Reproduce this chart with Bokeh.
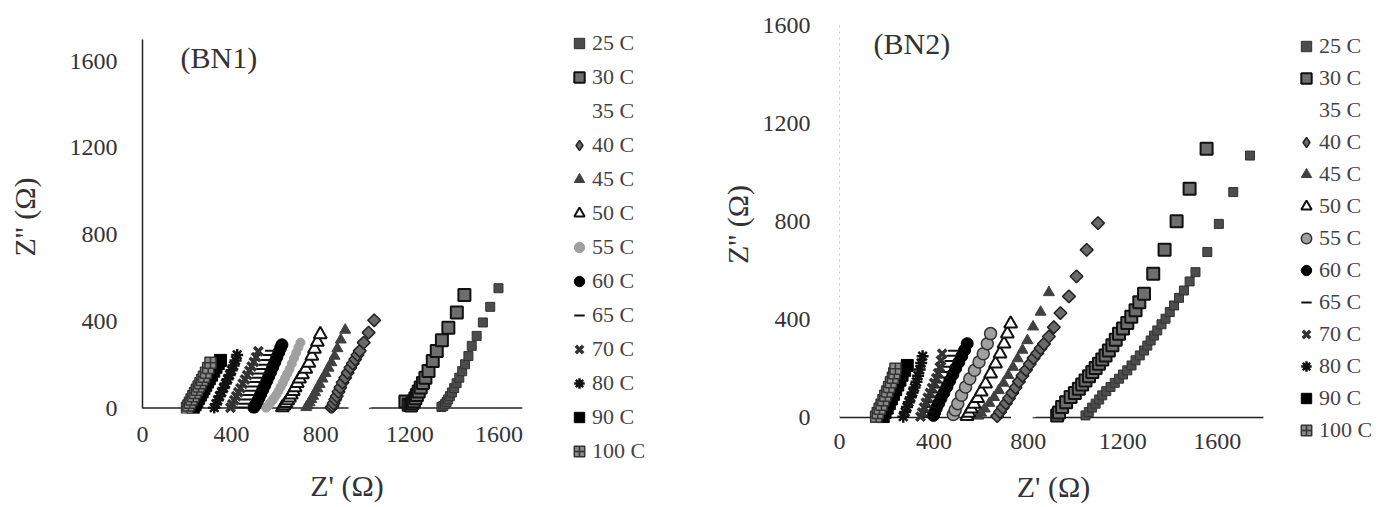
from bokeh.plotting import figure
from bokeh.models import Range1d, FixedTicker, Legend, LegendItem, Label
from bokeh.layouts import row
from bokeh.embed import file_html
from bokeh.resources import INLINE

temps = ["25 C", "30 C", "35 C", "40 C", "45 C", "50 C", "55 C", "60 C",
         "65 C", "70 C", "80 C", "90 C", "100 C"]
x_ticks = [0, 400, 800, 1200, 1600]
y_ticks = [0, 400, 800, 1200, 1600]
bn1_axis_x = [0, 1705]     # extent of the Z' axis line in BN1
bn1_axis_y = [0, 1700]     # extent of the Z'' axis line in BN1
bn2_axis_x = [0, 1796]
bn2_axis_y = [0, 1600]

# ---------------- BN1 ----------------
bn1_25_x = [1342, 1350, 1358, 1365, 1372, 1380, 1389, 1399, 1410, 1422, 1435, 1448, 1463, 1478, 1500, 1528, 1561, 1598]
bn1_25_y = [5, 10, 18, 28, 40, 55, 72, 92, 115, 140, 170, 202, 240, 287, 333, 395, 467, 553]
bn1_30_x = [1180, 1195, 1205, 1212, 1218, 1225, 1232, 1240, 1249, 1259, 1270, 1284, 1303, 1321, 1344, 1373, 1411, 1445]
bn1_30_y = [30, 15, 12, 22, 32, 45, 60, 76, 95, 116, 140, 171, 217, 263, 313, 371, 441, 522]
bn1_35_x = [952, 965, 978, 990, 1002, 1014, 1028, 1044, 1062, 1082, 1105]
bn1_35_y = [0, 4, 10, 18, 30, 45, 65, 90, 120, 155, 195]
bn1_40_x = [848, 853, 858, 865, 872, 880, 888, 898, 910, 921, 933, 944, 955, 965, 975, 993, 1015, 1040]
bn1_40_y = [2, 10, 22, 40, 55, 75, 95, 118, 140, 163, 186, 206, 225, 245, 264, 302, 348, 405]
bn1_45_x = [735, 742, 750, 758, 766, 775, 785, 795, 808, 822, 835, 848, 862, 875, 890, 910]
bn1_45_y = [3, 12, 25, 40, 55, 72, 90, 110, 135, 160, 185, 210, 240, 275, 315, 360]
bn1_50_x = [628, 636, 644, 652, 660, 668, 677, 685, 695, 705, 718, 733, 747, 760, 772, 785, 798]
bn1_50_y = [3, 12, 22, 35, 48, 62, 78, 95, 115, 135, 155, 180, 208, 240, 272, 305, 340]
bn1_55_x = [555, 563, 571, 580, 590, 600, 610, 620, 630, 640, 650, 660, 670, 680, 690, 700, 709]
bn1_55_y = [2, 10, 20, 32, 45, 60, 78, 97, 117, 138, 158, 180, 205, 230, 255, 280, 302]
bn1_60_x = [500, 507, 515, 523, 531, 540, 549, 558, 567, 576, 585, 594, 603, 612, 620, 626]
bn1_60_y = [3, 15, 30, 47, 65, 85, 105, 125, 147, 168, 190, 212, 235, 258, 278, 292]
bn1_65_x = [445, 455, 465, 475, 485, 495, 505, 515, 525, 535, 545, 555, 565, 575]
bn1_65_y = [3, 20, 40, 60, 80, 100, 120, 140, 160, 180, 200, 222, 245, 265]
bn1_70_x = [395, 403, 412, 421, 430, 440, 450, 460, 470, 480, 490, 500, 510, 520]
bn1_70_y = [2, 18, 36, 55, 73, 92, 112, 132, 152, 172, 192, 213, 235, 262]
bn1_80_x = [322, 330, 338, 346, 355, 364, 373, 382, 391, 400, 409, 418, 425]
bn1_80_y = [2, 18, 36, 55, 74, 93, 113, 133, 153, 174, 196, 220, 245]
bn1_90_x = [228, 236, 244, 252, 260, 268, 276, 284, 292, 300, 310, 320, 330, 340, 350]
bn1_90_y = [2, 15, 30, 45, 60, 75, 90, 105, 120, 135, 152, 170, 188, 205, 220]
bn1_100_x = [200, 206, 213, 220, 228, 236, 244, 252, 260, 268, 276, 285, 295, 305]
bn1_100_y = [0, 12, 25, 40, 55, 70, 85, 100, 115, 130, 145, 163, 185, 209]

# ---------------- BN2 ----------------
bn2_25_x = [1042, 1056, 1070, 1085, 1100, 1113, 1130, 1148, 1166, 1184, 1201, 1219, 1237, 1254, 1272, 1290, 1304, 1318,
            1332, 1346, 1364, 1381, 1399, 1417, 1438, 1459, 1483, 1508, 1558, 1607, 1668, 1739]
bn2_25_y = [8, 22, 40, 56, 73, 90, 107, 124, 141, 158, 175, 192, 212, 233, 253, 273, 293, 314,
            334, 355, 380, 403, 430, 457, 488, 518, 555, 593, 675, 790, 920, 1069]
bn2_30_x = [922, 930, 943, 960, 979, 997, 1014, 1028, 1042, 1057, 1071, 1085, 1099, 1113, 1127, 1141, 1156, 1170,
            1184, 1201, 1219, 1236, 1254, 1270, 1290, 1329, 1377, 1428, 1483, 1555]
bn2_30_y = [8, 20, 42, 62, 83, 100, 117, 134, 151, 168, 185, 202, 219, 236, 253, 273, 294, 317,
            341, 363, 385, 411, 437, 470, 505, 586, 684, 801, 933, 1097]
bn2_35_x = [752, 765, 778, 792, 806, 820, 836, 855, 876, 900]
bn2_35_y = [0, 3, 8, 15, 25, 40, 60, 85, 115, 150]
bn2_40_x = [668, 680, 692, 705, 718, 732, 746, 760, 775, 790, 806, 822, 838, 852, 866, 887, 908, 936, 972, 1004, 1047, 1095]
bn2_40_y = [5, 22, 40, 58, 78, 100, 122, 146, 170, 194, 218, 242, 262, 282, 300, 330, 368, 426, 494, 576, 684, 793]
bn2_45_x = [588, 600, 615, 635, 655, 675, 695, 715, 735, 755, 775, 796, 820, 852, 887]
bn2_45_y = [6, 18, 35, 58, 82, 110, 140, 172, 205, 240, 275, 314, 370, 430, 510]
bn2_50_x = [540, 548, 558, 570, 585, 600, 619, 640, 661, 680, 697, 711, 725]
bn2_50_y = [5, 18, 35, 55, 78, 105, 137, 178, 219, 260, 301, 341, 382]
bn2_55_x = [482, 490, 501, 517, 534, 552, 572, 591, 609, 626, 640]
bn2_55_y = [12, 30, 56, 90, 124, 158, 192, 226, 260, 301, 342]
bn2_60_x = [398, 403, 410, 420, 430, 442, 455, 467, 480, 492, 505, 518, 530, 541]
bn2_60_y = [8, 20, 37, 57, 78, 100, 125, 150, 175, 200, 225, 250, 275, 301]
bn2_65_x = [370, 378, 387, 396, 405, 414, 423, 432, 441, 450, 459, 468, 476, 483]
bn2_65_y = [3, 22, 42, 62, 82, 102, 122, 142, 163, 185, 207, 230, 252, 272]
bn2_70_x = [343, 350, 358, 366, 374, 383, 392, 401, 410, 418, 425, 430, 435]
bn2_70_y = [3, 20, 40, 60, 80, 100, 120, 140, 160, 180, 205, 232, 260]
bn2_80_x = [270, 278, 286, 294, 302, 310, 318, 326, 333, 340, 346, 352]
bn2_80_y = [3, 22, 42, 62, 82, 102, 122, 145, 170, 195, 222, 250]
bn2_90_x = [185, 193, 202, 211, 220, 229, 238, 247, 256, 265, 276, 287]
bn2_90_y = [3, 20, 38, 56, 75, 94, 113, 132, 152, 172, 192, 212]
bn2_100_x = [155, 162, 170, 178, 186, 194, 202, 210, 218, 226, 232, 237]
bn2_100_y = [3, 18, 35, 52, 70, 88, 106, 124, 143, 162, 180, 199]

bn1_series = [(bn1_25_x, bn1_25_y), (bn1_30_x, bn1_30_y), (bn1_35_x, bn1_35_y), (bn1_40_x, bn1_40_y),
              (bn1_45_x, bn1_45_y), (bn1_50_x, bn1_50_y), (bn1_55_x, bn1_55_y), (bn1_60_x, bn1_60_y),
              (bn1_65_x, bn1_65_y), (bn1_70_x, bn1_70_y), (bn1_80_x, bn1_80_y), (bn1_90_x, bn1_90_y),
              (bn1_100_x, bn1_100_y)]
bn2_series = [(bn2_25_x, bn2_25_y), (bn2_30_x, bn2_30_y), (bn2_35_x, bn2_35_y), (bn2_40_x, bn2_40_y),
              (bn2_45_x, bn2_45_y), (bn2_50_x, bn2_50_y), (bn2_55_x, bn2_55_y), (bn2_60_x, bn2_60_y),
              (bn2_65_x, bn2_65_y), (bn2_70_x, bn2_70_y), (bn2_80_x, bn2_80_y), (bn2_90_x, bn2_90_y),
              (bn2_100_x, bn2_100_y)]

# marker styles
styles = {
    "25 C": dict(marker="square", size=9, fill_color="#4c4c4c", line_color="#333333", line_width=1),
    "30 C": dict(marker="square", size=12, fill_color="#6e6e6e", line_color="#111111", line_width=2),
    "35 C": dict(marker="square", size=11, fill_color="white", line_color="white", line_width=1),
    "40 C": dict(marker="square", size=9, angle=0.7854, fill_color="#6a6a6a", line_color="#222222", line_width=1.5),
    "45 C": dict(marker="triangle", size=11, fill_color="#404040", line_color="#404040", line_width=1),
    "50 C": dict(marker="triangle", size=13, fill_color="white", line_color="#111111", line_width=2),
    "55 C": dict(marker="circle", size=9, fill_color="#a0a0a0", line_color="#a0a0a0", line_width=1),
    "60 C": dict(marker="circle", size=12, fill_color="black", line_color="black", line_width=1),
    "65 C": dict(marker="dash", size=11, fill_color="black", line_color="#111111", line_width=2),
    "70 C": dict(marker="x", size=12, fill_color="#777777", line_color="#333333", line_width=3.5),
    "80 C": dict(marker="asterisk", size=12, fill_color="black", line_color="#111111", line_width=2.5),
    "90 C": dict(marker="square", size=12, fill_color="black", line_color="black", line_width=1),
    "100 C": dict(marker="square_cross", size=11, fill_color="#8a8a8a", line_color="#333333", line_width=1.5),
}
bn2_override = {
    "55 C": dict(marker="circle", size=12, fill_color="#a0a0a0", line_color="#333333", line_width=1.5),
}
# the legend swatch for 40 C is drawn as a diamond (legend swatches ignore marker angle)
legend_override = {
    "40 C": dict(marker="diamond", size=14, fill_color="#6a6a6a", line_color="#222222", line_width=1.5),
}

FONT = "Liberation Serif"
H = 506


def style_for(name, *overrides):
    st = dict(styles[name])
    for ov in overrides:
        st.update(ov.get(name, {}))
    return st


def make_fig(series, overrides, frame_w, frame_h, xr, yr, borders, axis_x, axis_y,
             yaxis_dim, title, title_pos, xlab_standoff, xlab_axis_standoff,
             ylab_standoff, ylab_axis_standoff):
    bl, br, bt, bb = borders
    p = figure(frame_width=frame_w, frame_height=frame_h, x_range=Range1d(*xr), y_range=Range1d(*yr),
               min_border_left=bl, min_border_right=br, min_border_top=bt, min_border_bottom=bb,
               output_backend="svg", toolbar_location=None)
    p.frame_align = False
    p.grid.visible = False
    p.outline_line_color = None

    # Z' axis line at Z'' = 0, drawn beneath the markers
    p.segment(x0=[axis_x[0]], y0=[0], x1=[axis_x[1]], y1=[0],
              line_color="#222222", line_width=1.5, level="underlay")

    for name, (xs, ys) in zip(temps, series):
        p.scatter(x=xs, y=ys, **style_for(name, overrides))

    xa = p.xaxis[0]
    xa.ticker = FixedTicker(ticks=x_ticks)
    xa.axis_line_color = None
    xa.major_tick_in = 0
    xa.major_tick_out = 0
    xa.minor_tick_in = 0
    xa.minor_tick_out = 0
    xa.major_tick_line_color = None
    xa.minor_tick_line_color = None
    xa.major_label_text_font = FONT
    xa.major_label_text_font_size = "24px"
    xa.major_label_text_color = "#333333"
    xa.major_label_standoff = xlab_standoff
    xa.axis_label = "Z' (Ω)"
    xa.axis_label_text_font = FONT
    xa.axis_label_text_font_size = "30px"
    xa.axis_label_text_font_style = "normal"
    xa.axis_label_text_color = "#333333"
    xa.axis_label_standoff = xlab_axis_standoff

    ya = p.yaxis[0]
    ya.ticker = FixedTicker(ticks=y_ticks)
    ya.bounds = tuple(axis_y)
    ya.major_tick_in = 0
    ya.major_tick_out = 0
    ya.minor_tick_in = 0
    ya.minor_tick_out = 0
    ya.major_tick_line_color = None
    ya.minor_tick_line_color = None
    if yaxis_dim:
        ya.axis_line_color = "#c4c4c4"
        ya.axis_line_dash = "2 4"
        ya.axis_line_width = 1
    else:
        ya.axis_line_color = "#222222"
        ya.axis_line_width = 1.5
    ya.major_label_text_font = FONT
    ya.major_label_text_font_size = "24px"
    ya.major_label_text_color = "#333333"
    ya.major_label_standoff = ylab_standoff
    ya.axis_label = "Z'' (Ω)"
    ya.axis_label_text_font = FONT
    ya.axis_label_text_font_size = "30px"
    ya.axis_label_text_font_style = "normal"
    ya.axis_label_text_color = "#333333"
    ya.axis_label_standoff = ylab_axis_standoff

    p.add_layout(Label(x=title_pos[0], y=title_pos[1], x_units="screen", y_units="screen",
                       text=title, text_font=FONT, text_font_size="30px", text_color="#333333",
                       text_baseline="middle", text_align="left"))
    return p


def make_legend_fig(series, overrides, width, loc, spacing):
    # a narrow panel that only holds the legend; the series sit outside its (empty) view window
    lf = figure(frame_width=width, frame_height=H, x_range=Range1d(-2, -1), y_range=Range1d(-2, -1),
                x_axis_type=None, y_axis_type=None, min_border=0,
                output_backend="svg", toolbar_location=None)
    lf.frame_align = False
    lf.grid.visible = False
    lf.outline_line_color = None
    items = []
    for name, (xs, ys) in zip(temps, series):
        r = lf.scatter(x=xs, y=ys, **style_for(name, overrides, legend_override))
        items.append(LegendItem(label=name, renderers=[r]))
    legend = Legend(items=items, location=loc, orientation="vertical",
                    label_text_font=FONT, label_text_font_size="22px", label_text_color="#444444",
                    glyph_width=26, glyph_height=26, label_height=26, label_standoff=0,
                    spacing=spacing, padding=0, margin=0,
                    border_line_color=None, background_fill_alpha=0)
    lf.add_layout(legend, "center")
    return lf


p1 = make_fig(bn1_series, {}, 409, 393, (0, 1836), (-25, 1788), (142, 5, 20, 93),
              bn1_axis_x, bn1_axis_y, False, "(BN1)", (38, 356), 13, 24, 25, 26)
l1 = make_legend_fig(bn1_series, {}, 132, (10, 42), 8)
p2 = make_fig(bn2_series, bn2_override, 428, 398, (0, 1813), (-25, 1600), (151, 5, 25, 83),
              bn2_axis_x, bn2_axis_y, True, "(BN2)", (34, 380), 10, 18, 29, 6)
l2 = make_legend_fig(bn2_series, bn2_override, 113, (21, 63), 6)

layout = row(p1, l1, p2, l2)
open("out.html", "w").write(file_html(layout, INLINE))
